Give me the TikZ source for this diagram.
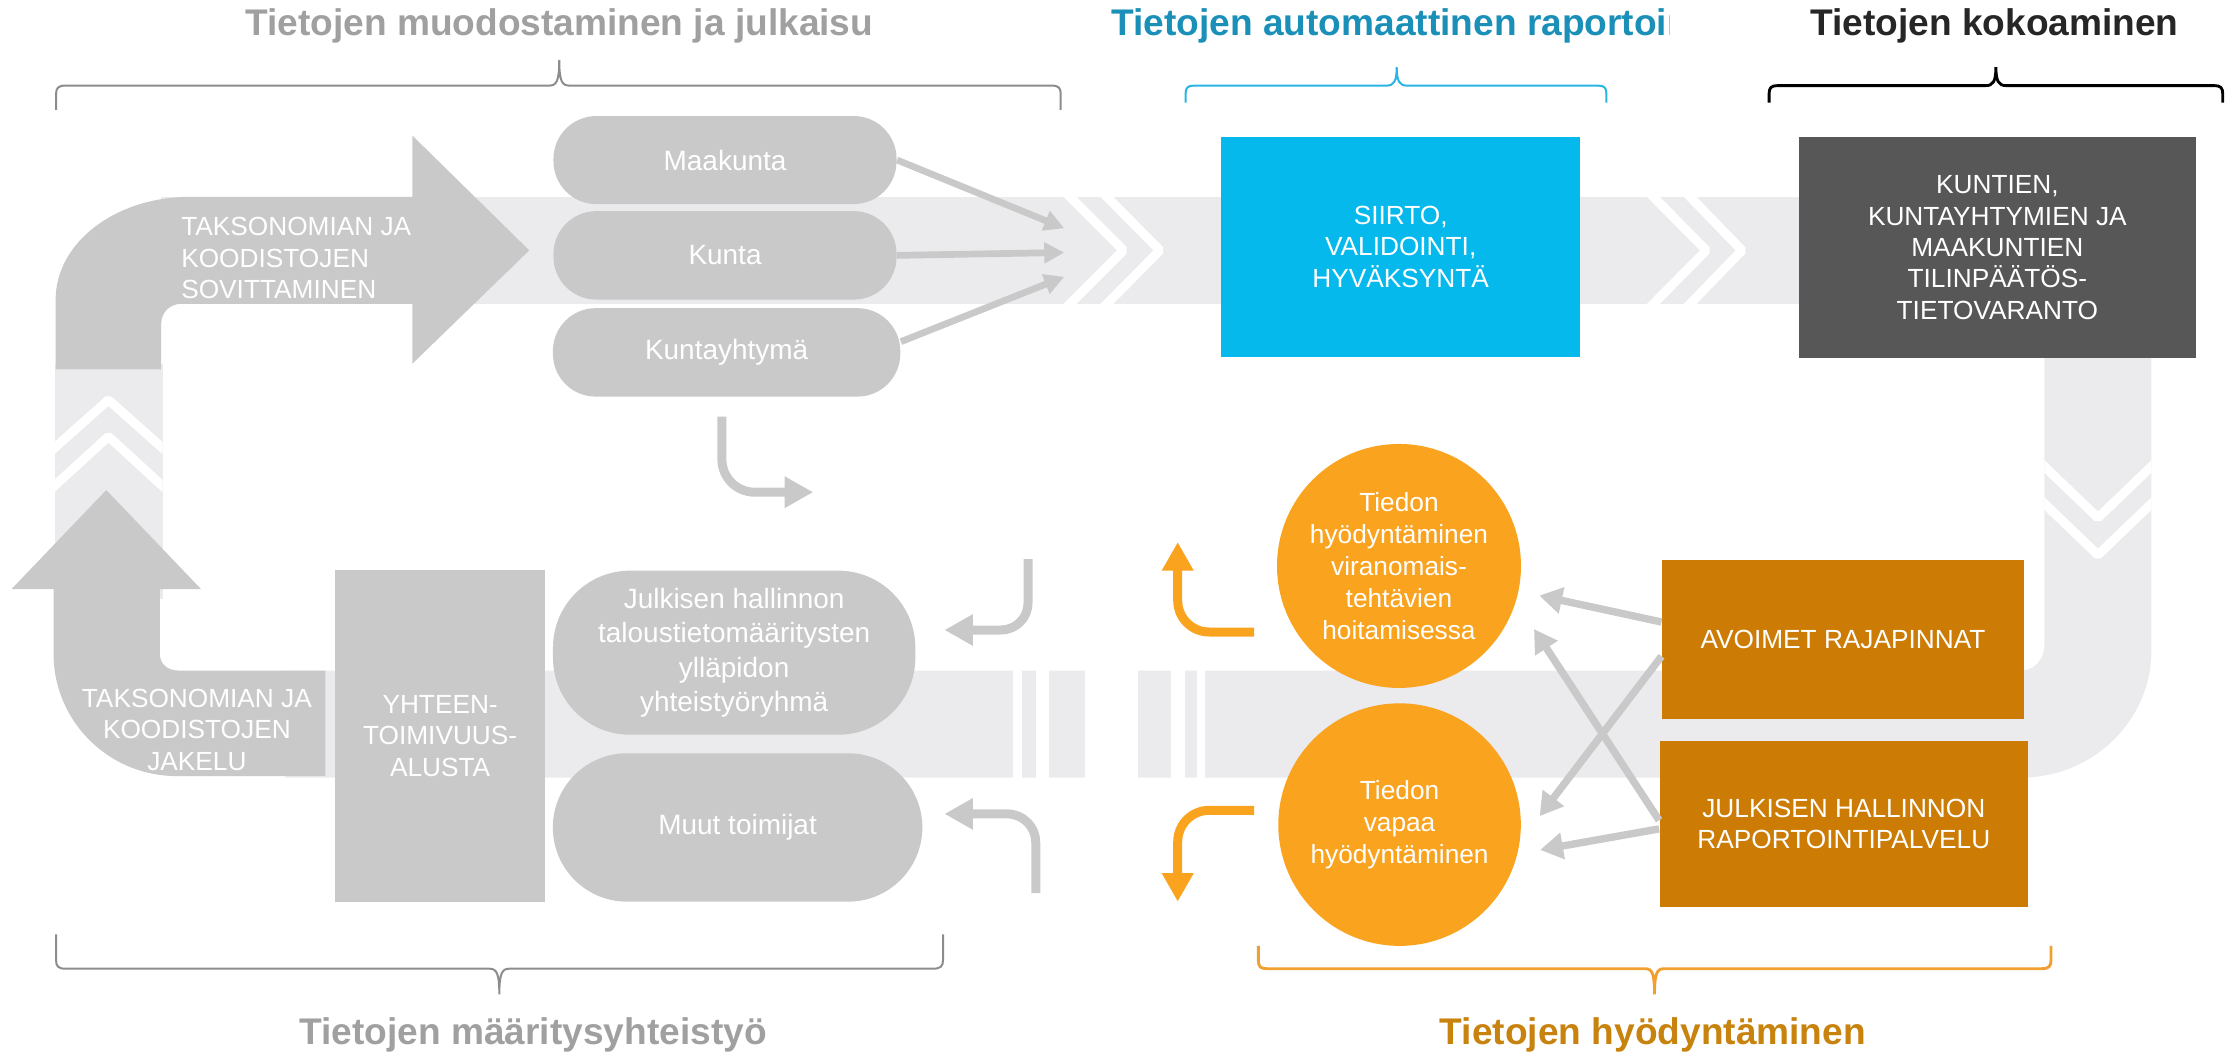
\documentclass[tikz,border=0pt]{standalone}
\usepackage{fontspec}
\setmainfont{Liberation Sans}
\usetikzlibrary{arrows.meta}
\definecolor{bandgray}{RGB}{235,234,237}
\definecolor{midgray}{RGB}{201,201,201}
\definecolor{titlegray}{RGB}{160,160,160}
\definecolor{bracegray}{RGB}{140,140,140}
\definecolor{skyblue}{RGB}{5,185,236}
\definecolor{tealtitle}{RGB}{26,143,184}
\definecolor{tealbrace}{RGB}{40,180,228}
\definecolor{darkbox}{RGB}{87,87,87}
\definecolor{darktitle}{RGB}{38,38,38}
\definecolor{pumpkin}{RGB}{249,163,31}
\definecolor{brownbox}{RGB}{204,124,5}
\definecolor{browntitle}{RGB}{200,130,14}
\definecolor{orangebrace}{RGB}{240,160,48}

\begin{document}
\begin{tikzpicture}[x=0.5pt,y=-0.5pt,
  pill/.style={fill=midgray,text=white,rounded corners=15pt,align=center,font=\fontsize{9.8}{12}\selectfont},
  bigpill/.style={pill,rounded corners=27pt},
  box/.style={text=white,align=center,font=\fontsize{9.2}{11}\selectfont},
  disc/.style={circle,fill=pumpkin,text=white,align=center,inner sep=0pt,font=\fontsize{9.2}{11.2}\selectfont},
  chev/.style={draw=white,line width=3.2pt,line join=bevel},
  feed/.style={draw=midgray,line width=2.35pt,-{Triangle[length=7pt,width=7pt]}},
  link/.style={draw=midgray,line width=2.6pt,-{Triangle[length=8pt,width=9pt]}},
  turn/.style={draw=midgray,line width=3.15pt,-{Triangle[length=10pt,width=10.4pt]}},
  useturn/.style={draw=pumpkin,line width=3.15pt,-{Triangle[length=10pt,width=10.5pt]}},
  brace/.style={line width=0.7pt},
  title/.style={anchor=base,font=\fontsize{13}{15}\selectfont\bfseries},
  armtext/.style={text=white,font=\fontsize{9.2}{11}\selectfont}]
\useasboundingbox (0,0) rectangle (1568,742);

\fill[bandgray] (113,138) rectangle (1300,213);
\fill[bandgray] (38.5,255) rectangle (114,420);
\fill[bandgray] (1433,240) -- (1508,240) -- (1508,456) .. controls (1508,505) and (1467,545) .. (1417,545) -- (200,545) -- (200,470) -- (1417,470) .. controls (1426,470) and (1433,462) .. (1433,452) -- cycle;
\fill[white] (709.8,465) rectangle (716,550);
\fill[white] (726,465) rectangle (735.5,550);
\fill[white] (760.5,465) rectangle (797.6,550);
\fill[white] (820.8,465) rectangle (830.6,550);
\fill[white] (839,465) rectangle (844.6,550);

\begin{scope}
\clip (113,138) rectangle (1300,213);
\draw[chev] (740,128) -- (787.5,175.5) -- (740,223);
\draw[chev] (766,128) -- (813,175.5) -- (766,223);
\draw[chev] (1149,128) -- (1196,175.5) -- (1149,223);
\draw[chev] (1175,128) -- (1221,175.5) -- (1175,223);
\end{scope}
\begin{scope}
\clip (38.5,259) rectangle (114,413);
\draw[chev] (28.4,322.7) -- (76,280.3) -- (123.6,322.7);
\draw[chev] (28.4,349.5) -- (76,306) -- (123.6,349.5);
\end{scope}
\begin{scope}
\clip (1433,250) rectangle (1508,440);
\draw[chev] (1423,317.4) -- (1470.5,363) -- (1518,317.4);
\draw[chev] (1423,343.4) -- (1470.5,389) -- (1518,343.4);
\end{scope}

\fill[midgray] (39,259) -- (39,210) .. controls (39,170) and (81,138) .. (133,138) -- (289,138) -- (289,95) -- (371,175.5) -- (289,255) -- (289,213) -- (127,213) .. controls (119,213) and (113,219) .. (113,227) -- (113,259) -- cycle;
\fill[midgray] (37.5,458) -- (37.5,413) -- (8,413) -- (74.5,343.5) -- (141,413) -- (112,413) -- (112,458) .. controls (112,465) and (117,470) .. (125,470) -- (228,470) -- (228,544) -- (124,544) .. controls (76,544) and (37.5,505.5) .. (37.5,458) -- cycle;
\node[armtext,anchor=west,align=left] (sovitus) at (120,181) {TAKSONOMIAN JA\\KOODISTOJEN\\SOVITTAMINEN};
\node[armtext,align=center] (jakelu) at (138,511.5) {TAKSONOMIAN JA\\KOODISTOJEN\\JAKELU};

\node[pill,minimum width=120.25pt,minimum height=30.85pt] (maakunta) at (508.2,112.2) {Maakunta};
\node[pill,minimum width=120.25pt,minimum height=31pt] (kunta) at (508.2,179) {Kunta};
\node[pill,minimum width=121.75pt,minimum height=31pt] (kuntayhtyma) at (509.3,247) {Kuntayhtymä};
\node[bigpill,minimum width=127pt,minimum height=57.5pt] (ryhma) at (514.6,457.5) {Julkisen hallinnon\\taloustietomääritysten\\ylläpidon\\yhteistyöryhmä};
\node[bigpill,minimum width=129.5pt,minimum height=52pt,rounded corners=26pt] (muut) at (517,580) {Muut toimijat};
\node[box,fill=midgray,minimum width=73.5pt,minimum height=116.25pt] (alusta) at (308.5,515.75) {YHTEEN-\\TOIMIVUUS-\\ALUSTA};
\node[box,fill=skyblue,minimum width=125.8pt,minimum height=77pt] (siirto) at (981.8,173) {SIIRTO,\\VALIDOINTI,\\HYVÄKSYNTÄ};
\node[box,fill=darkbox,minimum width=139pt,minimum height=77.5pt] (varanto) at (1400,173.5) {KUNTIEN,\\KUNTAYHTYMIEN JA\\MAAKUNTIEN\\TILINPÄÄTÖS-\\TIETOVARANTO};
\node[disc,minimum size=85.5pt] (viranomais) at (980.6,396.7) {Tiedon\\hyödyntäminen\\viranomais-\\tehtävien\\hoitamisessa};
\node[disc,minimum size=85pt] (vapaa) at (981,578) {Tiedon\\vapaa\\hyödyntäminen};
\node[box,fill=brownbox,minimum width=126.8pt,minimum height=55.6pt] (avoimet) at (1291.8,448.4) {AVOIMET RAJAPINNAT};
\node[box,fill=brownbox,minimum width=129.1pt,minimum height=58.15pt] (raportointi) at (1292.4,577.5) {JULKISEN HALLINNON\\RAPORTOINTIPALVELU};

\coordinate (inflow1) at (746,160);
\coordinate (inflow2) at (746,177);
\coordinate (inflow3) at (746,194);
\draw[feed] (maakunta.east) -- (inflow1);
\draw[feed] (kunta.east) -- (inflow2);
\draw[feed] ([yshift=3.75pt]kuntayhtyma.east) -- (inflow3);
\draw[link] ([yshift=6.2pt]avoimet.west) -- ([xshift=7.5pt]viranomais.-14);
\draw[link] ([yshift=-5.8pt]avoimet.west) -- ([xshift=6.5pt]vapaa.4);
\draw[link] ([yshift=1.25pt]raportointi.west) -- ([xshift=10.5pt]viranomais.-31);
\draw[link] ([yshift=-1.75pt]raportointi.west) -- ([xshift=7.5pt]vapaa.-12);

\coordinate (turn1a) at (506,292);
\coordinate (turn1b) at (570,345);
\coordinate (turn2a) at (720.6,392);
\coordinate (turn2b) at (662,441.6);
\coordinate (turn3a) at (726,626);
\coordinate (turn3b) at (662,570.5);
\draw[turn,rounded corners=11.5pt] (turn1a) |- (turn1b);
\draw[turn,rounded corners=9.5pt] (turn2a) |- (turn2b);
\draw[turn,rounded corners=10pt] (turn3a) |- (turn3b);
\coordinate (use1a) at (879,443);
\coordinate (use1b) at (825.5,380);
\coordinate (use2a) at (879,568);
\coordinate (use2b) at (825.5,632);
\draw[useturn,rounded corners=11pt] (use1a) -| (use1b);
\draw[useturn,rounded corners=11pt] (use2a) -| (use2b);

\draw[brace,draw=bracegray] (39.3,77) -- (39.3,66) .. controls (39.3,61.5) and (41,60) .. (46,60) -- (385,60) .. controls (390,60) and (392,57) .. (392,42) .. controls (392,57) and (394,60) .. (399,60) -- (737,60) .. controls (742,60) and (743.5,61.5) .. (743.5,66) -- (743.5,77);
\draw[brace,draw=tealbrace] (831,72) -- (831,66) .. controls (831,61.5) and (832.5,60) .. (837,60) -- (972,60) .. controls (977,60) and (979,57) .. (979,47) .. controls (979,57) and (981,60) .. (986,60) -- (1120,60) .. controls (1124.5,60) and (1126,61.5) .. (1126,66) -- (1126,72);
\draw[brace,draw=black,line width=1pt] (1240,72) -- (1240,66) .. controls (1240,61.5) and (1241.5,60) .. (1246,60) -- (1392,60) .. controls (1397,60) and (1399,57) .. (1399,47) .. controls (1399,57) and (1401,60) .. (1406,60) -- (1552,60) .. controls (1556.5,60) and (1558,61.5) .. (1558,66) -- (1558,72);
\draw[brace,draw=bracegray] (39.3,655) -- (39.3,673) .. controls (39.3,677.5) and (41,679) .. (46,679) -- (343,679) .. controls (348,679) and (350,682) .. (350,697) .. controls (350,682) and (352,679) .. (357,679) -- (654,679) .. controls (659,679) and (661,677.5) .. (661,673) -- (661,655);
\draw[brace,draw=orangebrace,line width=1pt] (882,663) -- (882,673) .. controls (882,677.5) and (883.5,679) .. (888,679) -- (1153,679) .. controls (1158,679) and (1159.7,682) .. (1159.7,697) .. controls (1159.7,682) and (1161.5,679) .. (1166.5,679) -- (1431,679) .. controls (1436,679) and (1437.6,677.5) .. (1437.6,673) -- (1437.6,663);

\node[title,text=titlegray] (muodostus) at (392,25) {Tietojen muodostaminen ja julkaisu};
\begin{scope}
\clip (700,0) rectangle (1170,45);
\node[title,anchor=base west,text=tealtitle] (automaattinen) at (772,25) {Tietojen automaattinen raportointi};
\end{scope}
\node[title,text=darktitle] (kokoaminen) at (1398,25) {Tietojen kokoaminen};
\node[title,text=titlegray] (maaritys) at (373.7,732) {Tietojen määritysyhteistyö};
\node[title,text=browntitle] (hyodyntaminen) at (1158.6,732) {Tietojen hyödyntäminen};
\end{tikzpicture}
\end{document}
